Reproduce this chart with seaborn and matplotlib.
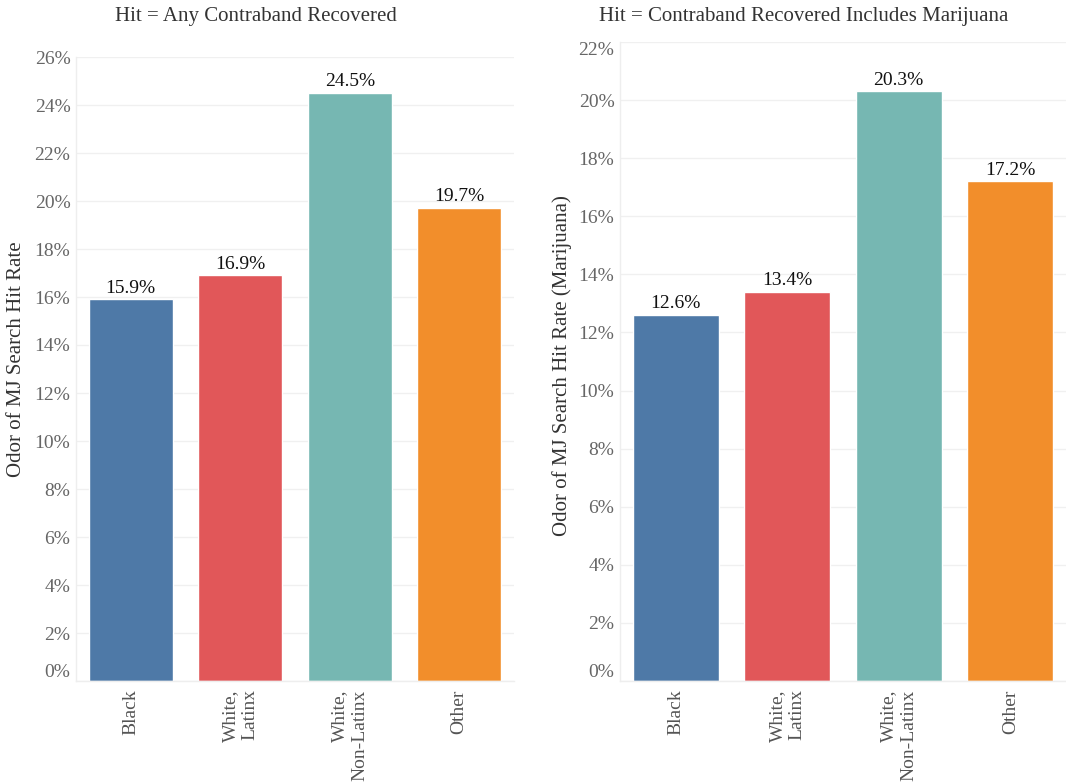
import matplotlib
matplotlib.use("Agg")
import matplotlib.pyplot as plt
import seaborn as sns
import pandas as pd
import numpy as np

sns.set_theme(style="white")
plt.rcParams["font.family"] = ["Liberation Serif", "DejaVu Serif"]

# Data
groups = ["Black", "White,\nLatinx", "White,\nNon-Latinx", "Other"]
hit_any = [0.159, 0.169, 0.245, 0.197]
hit_mj = [0.126, 0.134, 0.203, 0.172]
colors = ["#4e79a7", "#e15759", "#76b7b2", "#f28e2b"]

titles = ["Hit = Any Contraband Recovered",
          "Hit = Contraband Recovered Includes Marijuana"]
ylabels = ["Odor of MJ Search Hit Rate",
           "Odor of MJ Search Hit Rate (Marijuana)"]
ymax = [0.26, 0.22]

W, H = 1066, 784
fig = plt.figure(figsize=(W / 100, H / 100), dpi=100)

axes_px = [(76, 57, 514, 681), (620, 42, 1066, 681)]
title_x = [256, 804]
ylabel_pos = [(17, 359), (562, 366)]

for i, vals in enumerate([hit_any, hit_mj]):
    x0, y0, x1, y1 = axes_px[i]
    ax = fig.add_axes([x0 / W, (H - y1) / H, (x1 - x0) / W, (y1 - y0) / H])
    df = pd.DataFrame({"group": groups, "rate": vals})
    sns.barplot(data=df, x="group", y="rate", hue="group", palette=colors,
                width=0.77, legend=False, ax=ax, saturation=1)
    ax.set_ylim(0, ymax[i])
    ticks = np.round(np.arange(0, ymax[i] + 1e-9, 0.02), 2)
    ax.set_yticks(ticks)
    ax.set_yticklabels([f"{t * 100:.0f}%" for t in ticks])
    ax.grid(axis="y", color="#f0f0f0", linewidth=1)
    ax.set_axisbelow(True)
    for s in ["top", "right"]:
        ax.spines[s].set_visible(False)
    for s in ["left", "bottom"]:
        ax.spines[s].set_color("#eeeeee")
        ax.spines[s].set_linewidth(1)
    ax.tick_params(axis="y", labelsize=14, labelcolor="#666666", length=0, pad=4)
    ax.tick_params(axis="x", labelsize=14, labelcolor="#555555", length=0, pad=6)
    for lab in ax.get_xticklabels():
        lab.set_rotation(90)
        lab.set_ha("center")
        lab.set_va("top")
        lab.set_multialignment("right")
    ax.set_xlabel("")
    ax.set_ylabel("")
    for cont in ax.containers:
        ax.bar_label(cont, labels=[f"{b.get_height() * 100:.1f}%" for b in cont],
                     fontsize=14, color="#111111", padding=2)
    # keep the end labels inside the plotting area
    ylabs = ax.get_yticklabels()
    ylabs[0].set_va("bottom")
    if i == 1:
        ylabs[-1].set_va("top")
    fig.text(title_x[i] / W, 1 - 17 / H, titles[i], ha="center", va="center",
             fontsize=15, color="#333333")
    lx, ly = ylabel_pos[i]
    fig.text(lx / W, 1 - ly / H, ylabels[i], ha="center", va="center",
             rotation=90, fontsize=15, color="#333333")

fig.savefig("out.png", dpi=100, facecolor="white")
